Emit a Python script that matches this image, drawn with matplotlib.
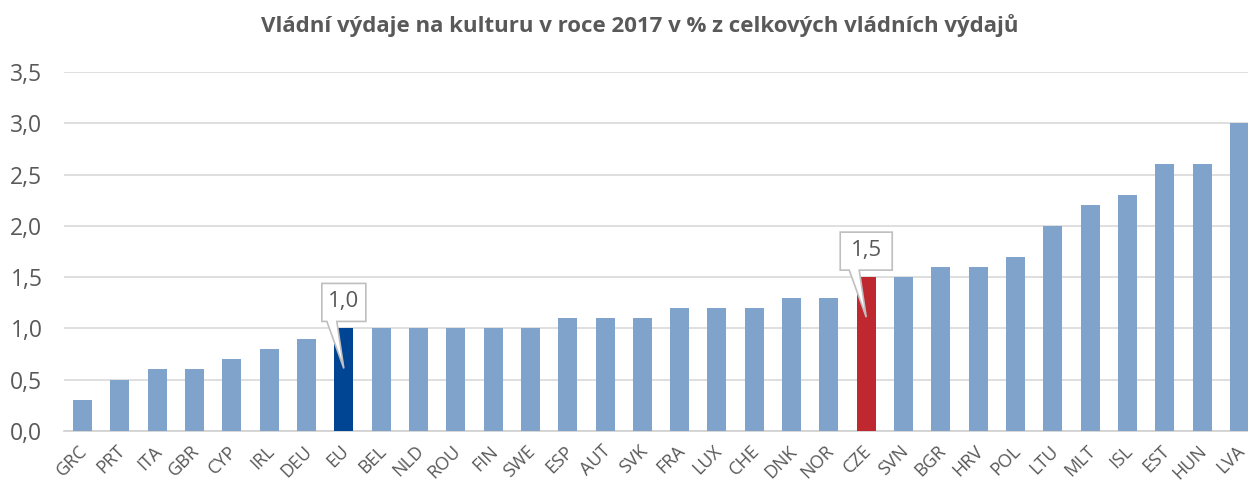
import numpy as np
import matplotlib.pyplot as plt
from matplotlib.patches import Polygon
from matplotlib.transforms import Affine2D, ScaledTranslation
from matplotlib.ticker import FuncFormatter, MultipleLocator

plt.rcParams['font.family'] = ['Open Sans', 'DejaVu Sans']

countries = ['GRC', 'PRT', 'ITA', 'GBR', 'CYP', 'IRL', 'DEU', 'EU', 'BEL', 'NLD',
             'ROU', 'FIN', 'SWE', 'ESP', 'AUT', 'SVK', 'FRA', 'LUX', 'CHE', 'DNK',
             'NOR', 'CZE', 'SVN', 'BGR', 'HRV', 'POL', 'LTU', 'MLT', 'ISL', 'EST',
             'HUN', 'LVA']
values = [0.3, 0.5, 0.6, 0.6, 0.7, 0.8, 0.9, 1.0, 1.0, 1.0,
          1.0, 1.0, 1.0, 1.1, 1.1, 1.1, 1.2, 1.2, 1.2, 1.3,
          1.3, 1.5, 1.5, 1.6, 1.6, 1.7, 2.0, 2.2, 2.3, 2.6,
          2.6, 3.0]
highlight = {'EU': '#004494', 'CZE': '#C0282F'}
callouts = ['EU', 'CZE']

base_col = '#7FA3CB'
text_col = '#595959'

fig = plt.figure(figsize=(12.48, 4.83), dpi=100)
# right edge runs past the picture, like in the original
ax = fig.add_axes([64 / 1248, 52 / 483, 1194 / 1248, 359 / 483])

x = np.arange(len(countries))
cols = [highlight.get(c, base_col) for c in countries]
ax.bar(x, values, width=0.51, color=cols, zorder=3)

ax.set_xlim(-0.5, len(countries) - 0.5)
ax.set_ylim(0, 3.5)
ax.yaxis.set_major_locator(MultipleLocator(0.5))
ax.yaxis.set_major_formatter(FuncFormatter(lambda v, p: f'{v:.1f}'.replace('.', ',')))
ax.grid(axis='y', color='#D9D9D9', lw=1.2, zorder=0)
for s in ['top', 'right', 'left']:
    ax.spines[s].set_visible(False)
ax.spines['bottom'].set_color('#D0D0D0')
ax.spines['bottom'].set_linewidth(1.2)
ax.tick_params(length=0)
ax.tick_params(axis='y', labelsize=16.5, labelcolor=text_col, pad=15.5)
ax.set_xticks(x)
ax.set_xticklabels(countries, rotation=45, ha='right', va='top',
                   rotation_mode='anchor', fontsize=13, color=text_col)
ax.tick_params(axis='x', pad=8)
shift = Affine2D().translate(-4, 0)
for lab in ax.get_xticklabels():
    lab.set_transform(lab.get_transform() + shift)

# speech-bubble labels (pixel offsets from bar top)
for c in callouts:
    i = countries.index(c)
    v = values[i]
    w = 26 if c == 'CZE' else 22
    shape = [(-w, 45), (w, 45), (w, 7), (-7, 7), (0, -40), (-17, 7), (-w, 7)]
    tr = Affine2D() + ScaledTranslation(i, v, ax.transData)
    ax.add_patch(Polygon(shape, closed=True, transform=tr, facecolor='white',
                         edgecolor='#BFBFBF', lw=1.2, zorder=5, clip_on=False))
    ax.annotate(f'{v:.1f}'.replace('.', ','), (i, v), xytext=(0, 27),
                textcoords='offset pixels', ha='center', va='center',
                fontsize=16, color=text_col, zorder=6)

fig.text(640 / 1248, 1 - 26 / 483,
         'Vládní výdaje na kulturu v roce 2017 v % z celkových vládních výdajů',
         ha='center', va='center', fontsize=16, fontweight='bold', color=text_col)

fig.savefig('out.png', dpi=100)
